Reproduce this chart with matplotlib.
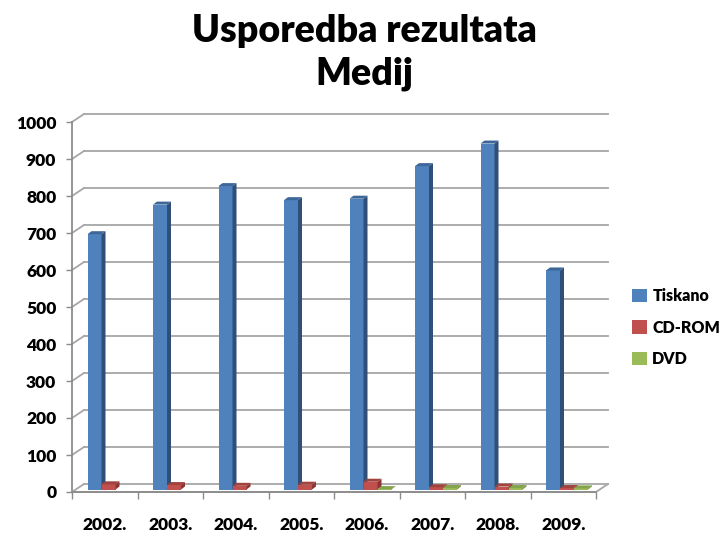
import matplotlib.pyplot as plt
import numpy as np
from matplotlib.patches import Polygon, Patch

plt.rcParams['font.family'] = ['Lato', 'DejaVu Sans']
plt.rcParams['font.weight'] = 'bold'

years = ['2002.', '2003.', '2004.', '2005.', '2006.', '2007.', '2008.', '2009.']
tiskano = [690, 770, 820, 782, 786, 874, 935, 592]
cd_rom = [14, 12, 10, 13, 21, 6, 8, 4]
dvd = [np.nan, np.nan, np.nan, np.nan, 1, 4, 4, 3]

series = [('Tiskano', tiskano), ('CD-ROM', cd_rom), ('DVD', dvd)]
face_cols = ['#4F81BD', '#C0504D', '#9BBB59']
side_cols = ['#2F4F78', '#8C3533', '#6F8A3C']
top_cols = ['#3D6799', '#A2423F', '#83A44A']

W, H = 721, 535
fig = plt.figure(figsize=(W / 100, H / 100), dpi=100)

# front plane of the plot: x 72..596 px, value 0..1000 -> y 492..122 px
x0, x1, y0, y1 = 72, 596, 492, 122
ax = fig.add_axes([x0 / W, 1 - y0 / H, (x1 - x0) / W, (y0 - y1) / H])
n = len(years)
ax.set_xlim(0, n)
ax.set_ylim(0, 1000)

px_x = (x1 - x0) / n       # pixels per category
px_y = (y0 - y1) / 1000    # pixels per value unit


def ux(p):
    return p / px_x


def uy(p):
    return p / px_y


# depth of the floor / back wall
ddx, ddy = ux(12), uy(8)
grid_col = '#A6A6A6'
axis_col = '#8C8C8C'

for v in range(0, 1001, 100):
    ax.plot([ddx, n + ddx], [v + ddy, v + ddy], color=grid_col, lw=1.3, clip_on=False, zorder=1)
    ax.plot([0, ddx], [v, v + ddy], color=grid_col, lw=1.3, clip_on=False, zorder=1)
# floor edges
ax.plot([0, n], [0, 0], color=grid_col, lw=1.3, clip_on=False, zorder=1)
ax.plot([n, n + ddx], [0, ddy], color=grid_col, lw=1.3, clip_on=False, zorder=1)

# 3D-looking columns
bw = ux(14)
start = ux(13)
offx, offy = ux(2.5), uy(2.5)
sdx, sdy = ux(4), uy(3)
for i in range(n):
    for j, (name, vals) in enumerate(series):
        v = vals[i]
        if np.isnan(v):
            continue
        xl = i + start + j * bw + offx
        ax.bar(xl, v, width=bw, bottom=offy, align='edge', color=face_cols[j],
               clip_on=False, zorder=3, linewidth=0)
        top = v + offy
        side = Polygon([(xl + bw, offy), (xl + bw + sdx, offy + sdy),
                        (xl + bw + sdx, top + sdy), (xl + bw, top)],
                       closed=True, facecolor=side_cols[j], lw=0, clip_on=False, zorder=3)
        lid = Polygon([(xl, top), (xl + sdx, top + sdy),
                       (xl + bw + sdx, top + sdy), (xl + bw, top)],
                      closed=True, facecolor=top_cols[j], lw=0, clip_on=False, zorder=3)
        ax.add_patch(side)
        ax.add_patch(lid)

# axes
for s in ['top', 'right', 'bottom']:
    ax.spines[s].set_visible(False)
ax.spines['left'].set_color(axis_col)
ax.spines['left'].set_linewidth(1.3)
ax.plot([0, n], [0, 0], color=axis_col, lw=1.3, clip_on=False, zorder=2)

ax.set_yticks(range(0, 1001, 100))
ax.set_yticklabels([str(v) for v in range(0, 1001, 100)], fontsize=12.5, fontweight='heavy')
ax.tick_params(axis='y', length=4.3, width=1, color=axis_col, pad=7)

ax.set_xticks(range(0, n + 1))
ax.set_xticklabels([''] * (n + 1))
ax.tick_params(axis='x', which='major', length=5, width=1, color=axis_col)
ax.set_xticks(np.arange(n) + 0.5, minor=True)
ax.set_xticklabels(years, minor=True, fontsize=12.5, fontweight='heavy')
ax.tick_params(axis='x', which='minor', length=0, pad=18)
ax.patch.set_visible(False)

fig.text(364 / W, 1 - 31 / H, 'Usporedba rezultata', ha='center', va='center',
         fontsize=27, fontweight='heavy')
fig.text(364 / W, 1 - 74 / H, 'Medij', ha='center', va='center',
         fontsize=27, fontweight='heavy')

handles = [Patch(facecolor=c) for c in face_cols]
fig.legend(handles, [s[0] for s in series], loc='upper left',
           bbox_to_anchor=(618 / W, 1 - 274 / H), frameon=False,
           handlelength=0.9, handleheight=0.9, handletextpad=0.35,
           labelspacing=0.95, prop={'size': 11.5, 'weight': 'heavy'})

fig.savefig('out.png', dpi=100)
